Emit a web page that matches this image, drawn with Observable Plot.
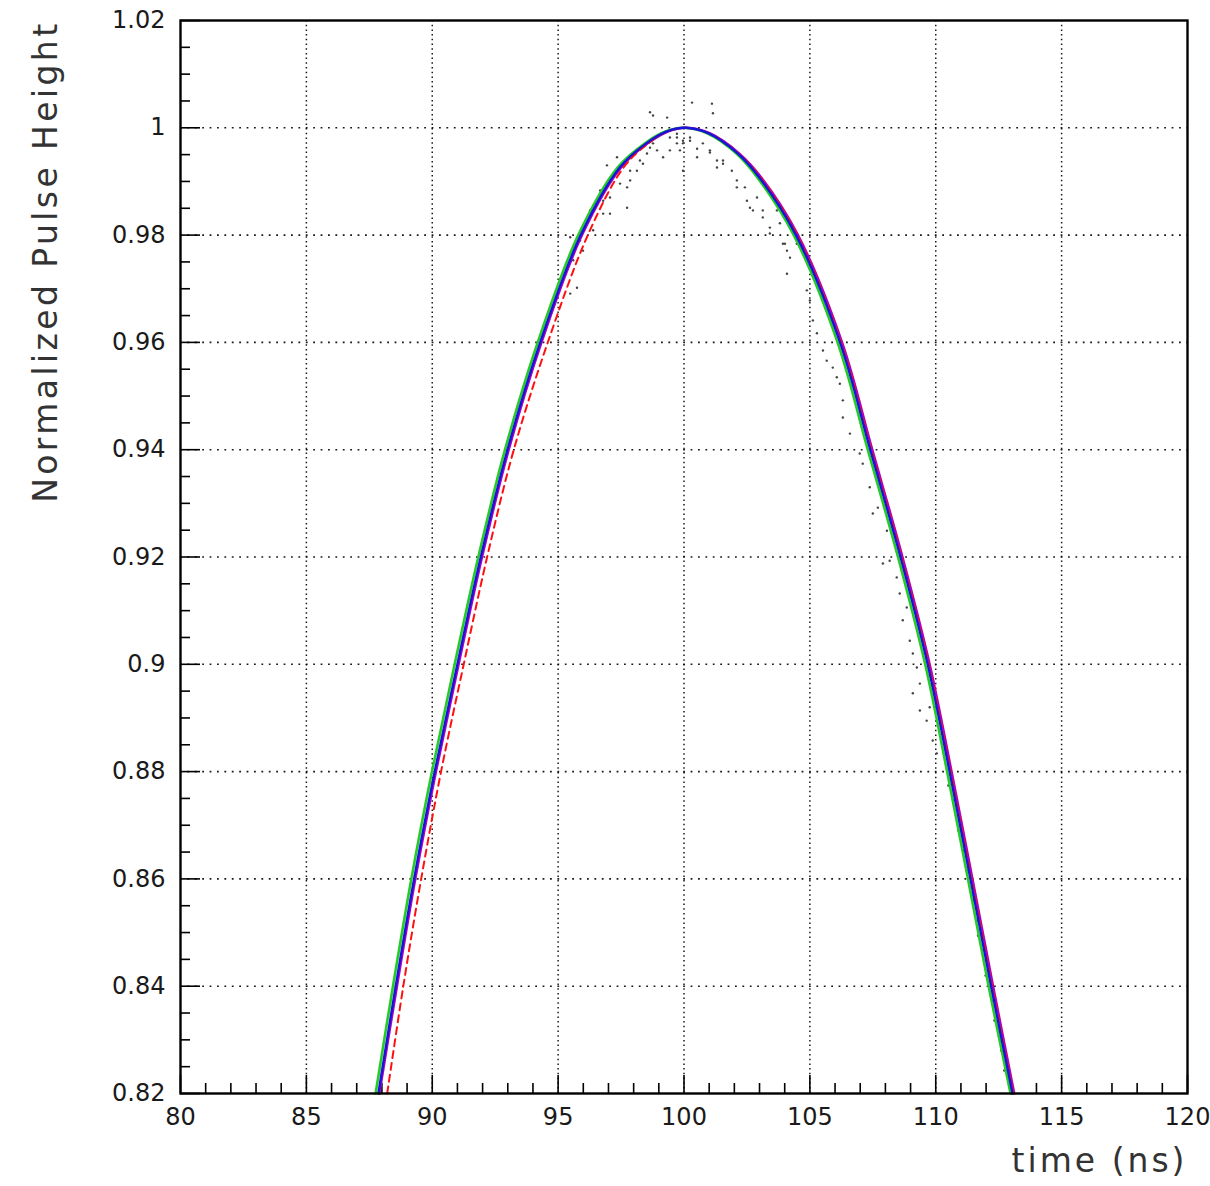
<!DOCTYPE html>
<html>
<head>
<meta charset="utf-8">
<script src="https://cdn.jsdelivr.net/npm/d3@7"></script>
<script src="https://cdn.jsdelivr.net/npm/@observablehq/plot@0.6"></script>
<style>
  body { margin: 0; background: #ffffff; }
  #chart { width: 1210px; height: 1186px; overflow: hidden; }
</style>
</head>
<body>
<div id="chart"></div>
<script>
// ---- Data ----
const xTicks = [80, 85, 90, 95, 100, 105, 110, 115, 120];
const yTicks = [0.82, 0.84, 0.86, 0.88, 0.90, 0.92, 0.94, 0.96, 0.98, 1.00, 1.02];

// Pulse heights at which the fitted curves were sampled
const curveHeight = [0.82, 0.84, 0.86, 0.88, 0.90, 0.92, 0.94, 0.96, 0.98, 0.9926, 0.9971, 0.9993, 1.0,
                     0.999, 0.9952, 0.9907, 0.98, 0.96, 0.94, 0.92, 0.90, 0.88, 0.86, 0.84, 0.82];

// Times (ns) of each curve at those heights
const greenTime   = [87.75, 88.44, 89.17, 89.99, 90.89, 91.83, 92.89, 94.19, 95.80, 97.36, 98.45, 99.25, 100.00,
                     100.90, 102.08, 102.92, 104.36, 106.10, 107.30, 108.50, 109.58, 110.45, 111.28, 112.10, 112.97];
const blueTime    = [87.86, 88.55, 89.28, 90.10, 91.00, 91.93, 92.99, 94.29, 95.90, 97.45, 98.50, 99.30, 100.05,
                     100.96, 102.14, 103.00, 104.45, 106.20, 107.40, 108.60, 109.68, 110.55, 111.38, 112.20, 113.05];
const magentaTime = [87.90, 88.60, 89.33, 90.15, 91.05, 91.98, 93.04, 94.34, 95.95, 97.50, 98.56, 99.36, 100.10,
                     101.02, 102.20, 103.08, 104.53, 106.28, 107.48, 108.68, 109.76, 110.63, 111.46, 112.28, 113.12];
const redTime     = [88.21, 88.85, 89.56, 90.35, 91.25, 92.18, 93.24, 94.59, 96.18, 97.60, 98.58, 99.33, 100.05,
                     100.98, 102.16, 103.05, 104.50, 106.24, 107.44, 108.64, 109.72, 110.59, 111.42, 112.24, 113.08];

// Measured points (scatter)
const scatterTime = [98.65, 98.77, 100.32, 101.11, 101.15, 99.33, 99.72, 99.96, 100.24, 100.52, 101.03, 101.31,
                     101.55, 101.90, 102.10, 102.42, 102.62, 102.90, 103.13, 103.41, 103.81, 103.93, 104.09, 104.09,
                     98.25, 97.86, 97.74, 97.06, 96.79, 96.39, 97.34, 99.17, 99.44, 98.65,
                     103.69, 104.88, 105.12, 105.52, 105.91, 106.19, 106.31, 104.48,
                     106.59, 107.10, 107.50, 108.06, 108.17, 108.57, 108.69, 108.97, 109.25, 109.37, 109.09, 109.76,
                     109.88, 107.90, 110.70, 111.10, 111.50, 111.85, 112.25, 112.60, 110.90, 111.65,
                     96.94, 96.67, 97.46, 97.74, 98.13, 98.53, 98.93, 95.48, 95.99, 95.75, 95.48,
                     106.98, 107.38, 107.70, 108.45, 108.85, 109.09, 109.37, 109.64, 110.04,
                     101.31, 101.55, 102.10, 102.50, 102.74, 103.13, 103.41, 104.01, 104.21, 105.00, 105.28, 105.67,
                     106.07, 106.31,
                     99.72, 99.96, 100.24, 100.75, 101.03, 99.84, 100.52,
                     97.86, 98.37, 98.77, 99.44, 99.72, 99.96, 97.06, 96.79, 96.27, 95.87, 95.60,
                     110.50, 110.80, 111.22, 111.42, 111.68, 111.98, 112.33, 112.72];
const scatterHeight = [1.0029, 1.0023, 1.0047, 1.0045, 1.0027, 1.0019, 0.9982, 0.9971, 0.9976, 0.9961, 0.9954, 0.9939,
                       0.9933, 0.9920, 0.9902, 0.9889, 0.9851, 0.9870, 0.9846, 0.9814, 0.9822, 0.9784, 0.9771, 0.9728,
                       0.9939, 0.9920, 0.9889, 0.9870, 0.9840, 0.9809, 0.9945, 0.9945, 0.9958, 0.9963,
                       0.9846, 0.9697, 0.9641, 0.9585, 0.9553, 0.9523, 0.9460, 0.9784,
                       0.9430, 0.9374, 0.9281, 0.9249, 0.9193, 0.9132, 0.9082, 0.9044, 0.8994, 0.8964, 0.8946, 0.8920,
                       0.8858, 0.9188, 0.8746, 0.8653, 0.8560, 0.8467, 0.8373, 0.8280, 0.8690, 0.8522,
                       0.9930, 0.9883, 0.9896, 0.9851, 0.9920, 0.9952, 0.9958, 0.9796, 0.9771, 0.9702, 0.9691,
                       0.9393, 0.9330, 0.9292, 0.9162, 0.9106, 0.9020, 0.8914, 0.8895, 0.8834,
                       0.9926, 0.9939, 0.9889, 0.9864, 0.9846, 0.9833, 0.9803, 0.9784, 0.9758, 0.9678, 0.9617, 0.9566,
                       0.9535, 0.9492,
                       0.9989, 0.9976, 0.9982, 0.9971, 0.9958, 0.9958, 0.9945,
                       0.9902, 0.9933, 0.9971, 0.9982, 0.9971, 0.9920, 0.9840, 0.9864, 0.9846, 0.9790, 0.9753,
                       0.8774, 0.8718, 0.8616, 0.8569, 0.8494, 0.8420, 0.8336, 0.8243];

// ---- Tables built from the arrays ----
const toRows = times => times.map((t, i) => ({t, h: curveHeight[i]}));
const green = toRows(greenTime);
const blue = toRows(blueTime);
const magenta = toRows(magentaTime);
const red = toRows(redTime);
const scatter = scatterTime.map((t, i) => ({t, h: scatterHeight[i]}));

const minorX = d3.range(80, 120.001, 1).filter(v => v % 5 !== 0);
const minorY = d3.range(0, 41).map(i => +(0.82 + i * 0.005).toFixed(3)).filter(v => !yTicks.includes(v));

const font = "DejaVu Sans";

const plot = Plot.plot({
  width: 1210,
  height: 1186,
  marginLeft: 180,
  marginRight: 23,
  marginTop: 20,
  marginBottom: 93,
  x: {domain: [80, 120]},
  y: {domain: [0.82, 1.02]},
  style: {fontFamily: font, background: "#ffffff", color: "#111"},
  marks: [
    // dotted grid
    Plot.gridX(xTicks.slice(1, -1), {stroke: "#000", strokeOpacity: 0.9, strokeWidth: 1.5, strokeDasharray: "1.5,3.2"}),
    Plot.gridY(yTicks.slice(1, -1), {stroke: "#000", strokeOpacity: 0.9, strokeWidth: 1.6, strokeDasharray: "1.8,5.6"}),
    // inward ticks
    Plot.axisX(minorX, {tickSize: 10, dy: -10, fill: "none", label: null, strokeWidth: 1.6, stroke: "#000"}),
    Plot.axisX(xTicks, {tickSize: 18, dy: -18, fill: "none", label: null, strokeWidth: 1.6, stroke: "#000"}),
    Plot.axisY(minorY, {tickSize: 10, dx: 10, fill: "none", label: null, strokeWidth: 1.6, stroke: "#000"}),
    Plot.axisY(yTicks, {tickSize: 20, dx: 20, fill: "none", label: null, strokeWidth: 1.6, stroke: "#000"}),
    // tick labels
    Plot.axisX(xTicks, {tickSize: 0, tickPadding: 14, fontSize: 24, label: null, fill: "#1a1a1a",
                        tickFormat: d => String(d)}),
    Plot.axisY(yTicks, {tickSize: 0, tickPadding: 15, fontSize: 24, label: null, fill: "#1a1a1a",
                        tickFormat: d => String(+d.toFixed(2))}),
    // measured points
    Plot.dot(scatter, {x: "t", y: "h", r: 1.2, fill: "#444", stroke: null}),
    // fitted curves
    Plot.line(green, {x: "t", y: "h", stroke: "#22cc22", strokeWidth: 2.6, curve: "catmull-rom"}),
    Plot.line(magenta, {x: "t", y: "h", stroke: "#b000c0", strokeWidth: 2.4, curve: "catmull-rom"}),
    Plot.line(red, {x: "t", y: "h", stroke: "#ff1010", strokeWidth: 2, strokeDasharray: "7,5", curve: "catmull-rom"}),
    Plot.line(blue, {x: "t", y: "h", stroke: "#1515d8", strokeWidth: 2.4, curve: "catmull-rom"}),
    // frame
    Plot.frame({stroke: "#000", strokeWidth: 2.4}),
    // axis titles
    Plot.text(["Normalized Pulse Height"], {frameAnchor: "top-left", dx: -147, rotate: -90, textAnchor: "end",
              fontSize: 33, fill: "#333"}),
    Plot.text(["time (ns)"], {frameAnchor: "bottom-right", dx: 0, dy: 78, textAnchor: "end",
              fontSize: 33, fill: "#333"})
  ]
});

d3.select(plot).selectAll("text")
  .filter(function () { return this.textContent === "Normalized Pulse Height"; })
  .style("letter-spacing", "3.4px");
d3.select(plot).selectAll("text")
  .filter(function () { return this.textContent === "time (ns)"; })
  .style("letter-spacing", "3px");

document.getElementById("chart").appendChild(plot);
</script>
</body>
</html>
